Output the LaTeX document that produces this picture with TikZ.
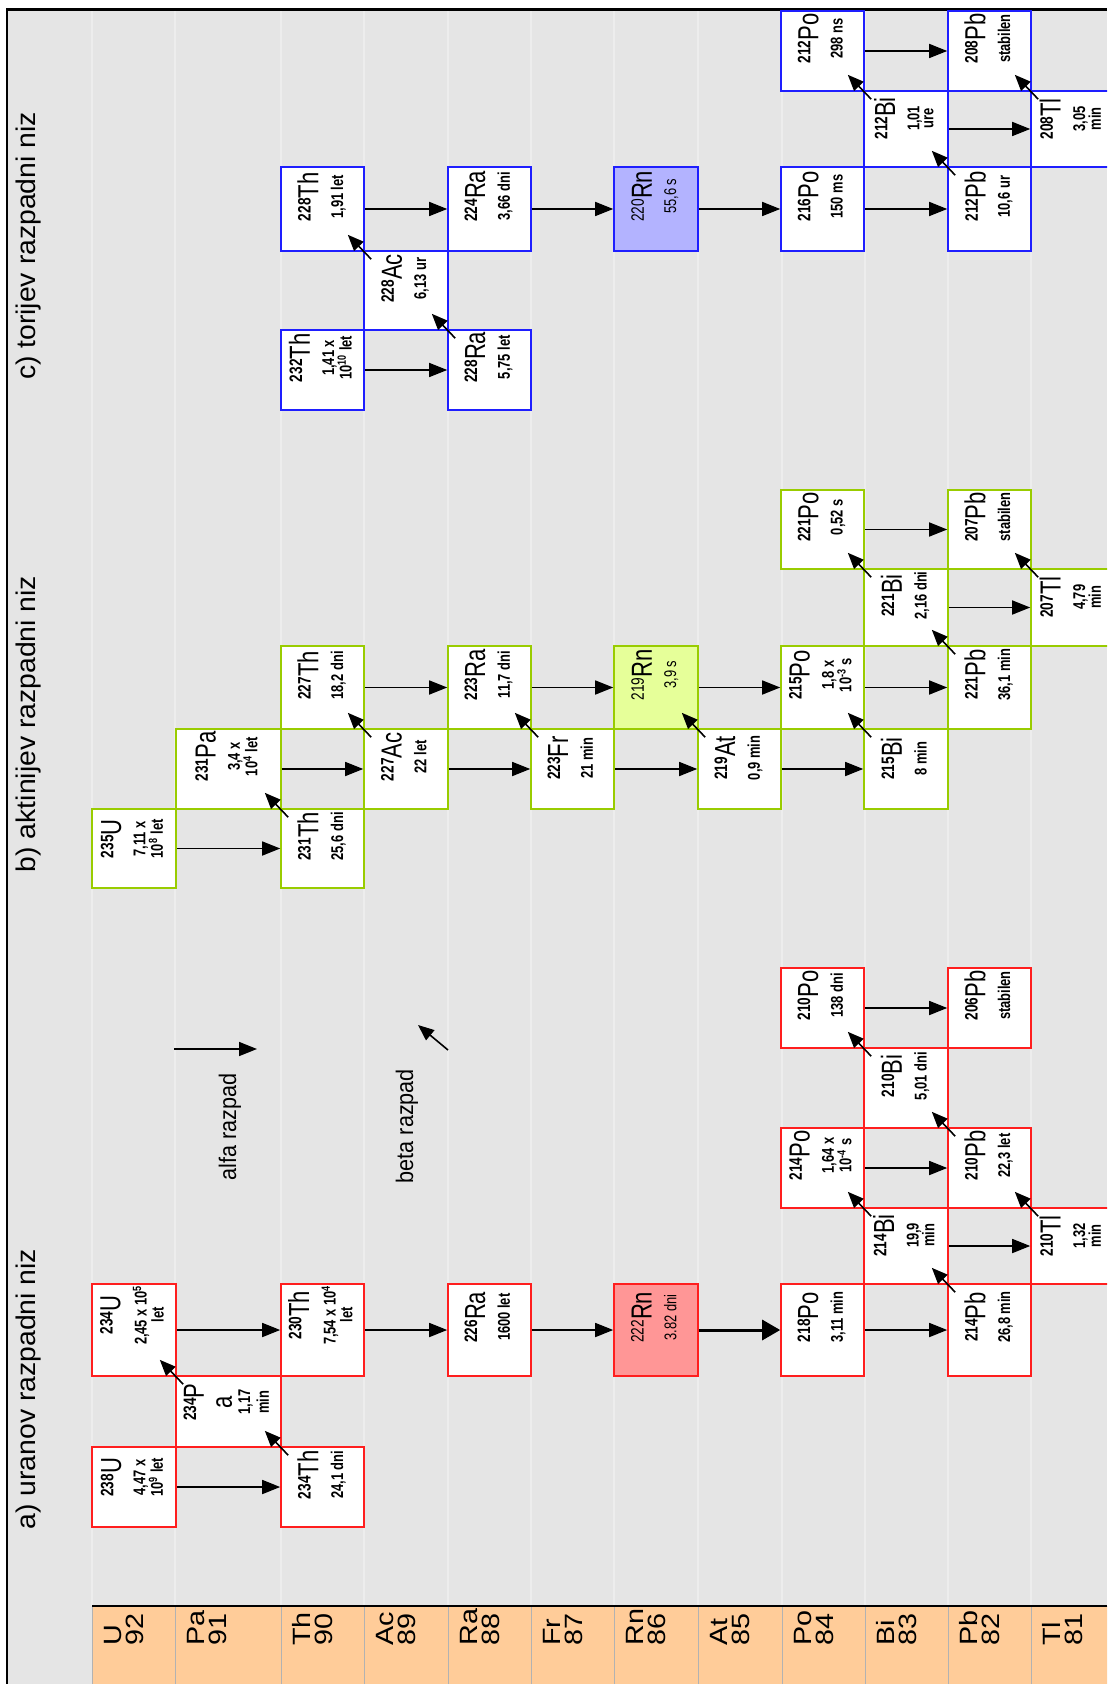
\documentclass[tikz,border=0pt]{standalone}
\usepackage{graphicx}
\usepackage{fontspec}
\setmainfont{Liberation Sans}
\newfontfamily\boxfont[FakeStretch=0.76]{Liberation Sans}
\newfontfamily\titlefont[FakeStretch=1.05]{Liberation Sans}
\newfontfamily\legendfont[FakeStretch=0.9]{Liberation Sans}
\newfontfamily\stripfont[FakeStretch=1.15]{Liberation Sans}
\usetikzlibrary{arrows.meta,fit}

\definecolor{bggray}{RGB}{229,229,229}
\definecolor{gridgray}{RGB}{237,237,237}
\definecolor{strip}{RGB}{255,204,153}
\definecolor{ured}{RGB}{255,30,30}
\definecolor{agreen}{RGB}{153,204,0}
\definecolor{tblue}{RGB}{30,30,255}
\definecolor{rnred}{RGB}{255,150,150}
\definecolor{rngreen}{RGB}{230,255,153}
\definecolor{rnblue}{RGB}{179,179,255}

% mass number, symbol, half-life lines
\newcommand{\nuc}[3]{\raisebox{-.5\height}{\rotatebox{90}{\begin{tabular}{@{}c@{}}\raisebox{3.9pt}{\fontsize{9}{9}\selectfont #1}{\mdseries\fontsize{14.5}{14.5}\selectfont #2}\\[4pt]#3\end{tabular}}}}
\newcommand{\rnlife}[1]{{\mdseries\fontsize{8.5}{9}\selectfont #1}}

\begin{document}
\begin{tikzpicture}[x=0.5pt, y=-0.5pt,
  box/.style={draw, fill=white, line width=0.8pt, inner sep=0pt, font=\boxfont\bfseries\fontsize{8.5}{7.5}\selectfont},
  ubox/.style={box, draw=ured},
  abox/.style={box, draw=agreen},
  tbox/.style={box, draw=tblue},
  alfa/.style={-{Triangle[length=9pt,width=7pt]}, line width=0.8pt},
  alfadebela/.style={-{Triangle[length=9pt,width=10pt]}, line width=1.5pt},
  beta/.style={-{Triangle[length=8pt,width=6.5pt]}, line width=0.8pt},
  naslov/.style={rotate=90, inner sep=0pt, font=\titlefont\fontsize{13.5}{13.5}\selectfont},
  legenda/.style={rotate=90, inner sep=0pt, font=\legendfont\fontsize{12}{12}\selectfont},
  celica/.style={fill=strip, draw=gray!60, line width=0.4pt},
  element/.style={rotate=90, anchor=west, align=left, inner sep=0pt, font=\stripfont\fontsize{12.5}{11}\selectfont},
  mreza/.style={draw=gridgray, line width=1pt}
]
\clip (0,0) rectangle (1107,1684);
\fill[white] (0,0) rectangle (1107,1684);
\fill[bggray] (7,9.5) rectangle (1107,1684);
\foreach \x in {92,175,281,364,448,531,614,698,782,865,948,1031}
  \draw[mreza] (\x,11) -- (\x,1606);
\draw[line width=1.3pt] (7,1684) -- (7,9.5) -- (1107,9.5);

% element strip
\foreach \sym/\z/\xa/\xb in {U/92/92/175, Pa/91/175/281, Th/90/281/364, Ac/89/364/448, Ra/88/448/531, Fr/87/531/614, Rn/86/614/698, At/85/698/782, Po/84/782/865, Bi/83/865/948, Pb/82/948/1031, Tl/81/1031/1114}{
  \draw[celica] (\xa,1606) rectangle (\xb,1690);
  \node[element] (el\z) at (\xa+32,1646) {\sym\\\z};
}
\draw[line width=0.8pt] (92,1606) -- (1107,1606);

\node[naslov] (nizU) at (29,1389) {a) uranov razpadni niz};
\node[naslov] (nizA) at (29,724) {b) aktinijev razpadni niz};
\node[naslov] (nizT) at (29,246) {c) torijev razpadni niz};

% a) uranium series
\node[ubox, fit={(92,1447) (176,1527)}] (u238) {\nuc{238}{U}{4,47 x\\[-0.5pt]10\textsuperscript{9} let}};
\node[ubox, fit={(281,1447) (364,1527)}] (th234) {\nuc{234}{Th}{24,1 dni}};
\node[ubox, fit={(176,1376) (281,1447)}] (pa234) {\nuc{234}{P}{{\mdseries\fontsize{14.5}{14}\selectfont a}\\[1pt]1,17\\[1pt]min}};
\node[ubox, fit={(92,1284) (176,1376)}] (u234) {\nuc{234}{U}{2,45 x 10\textsuperscript{5}\\let}};
\node[ubox, fit={(281,1284) (364,1376)}] (th230) {\nuc{230}{Th}{7,54 x 10\textsuperscript{4}\\let}};
\node[ubox, fit={(448,1284) (531,1376)}] (ra226) {\nuc{226}{Ra}{1600 let}};
\node[ubox, fill=rnred, fit={(614,1284) (698,1376)}] (rn222) {\nuc{\mdseries 222}{Rn}{\rnlife{3.82 dni}}};
\node[ubox, fit={(781,1284) (864,1376)}] (po218) {\nuc{218}{Po}{3,11 min}};
\node[ubox, fit={(948,1284) (1031,1376)}] (pb214) {\nuc{214}{Pb}{26,8 min}};
\node[ubox, fit={(864,1208) (948,1284)}] (bi214) {\nuc{214}{Bi}{19,9\\[-0.5pt]min}};
\node[ubox, fit={(1031,1208) (1114,1284)}] (tl210) {\nuc{210}{Tl}{1,32\\[-0.5pt]min}};
\node[ubox, fit={(781,1128) (864,1208)}] (po214) {\nuc{214}{Po}{1,64 x\\[-0.5pt]10\textsuperscript{-4} s}};
\node[ubox, fit={(948,1128) (1031,1208)}] (pb210) {\nuc{210}{Pb}{22,3 let}};
\node[ubox, fit={(864,1048) (948,1128)}] (bi210) {\nuc{210}{Bi}{5,01 dni}};
\node[ubox, fit={(781,968) (864,1048)}] (po210) {\nuc{210}{Po}{138 dni}};
\node[ubox, fit={(948,968) (1031,1048)}] (pb206) {\nuc{206}{Pb}{stabilen}};

% b) actinium series
\node[abox, fit={(92,809) (176,888)}] (u235) {\nuc{235}{U}{7,11 x\\[-0.5pt]10\textsuperscript{8} let}};
\node[abox, fit={(281,809) (364,888)}] (th231) {\nuc{231}{Th}{25,6 dni}};
\node[abox, fit={(176,729) (281,809)}] (pa231) {\nuc{231}{Pa}{3,4 x\\[-0.5pt]10\textsuperscript{4} let}};
\node[abox, fit={(364,729) (448,809)}] (ac227) {\nuc{227}{Ac}{22 let}};
\node[abox, fit={(281,646) (364,729)}] (th227) {\nuc{227}{Th}{18,2 dni}};
\node[abox, fit={(448,646) (531,729)}] (ra223) {\nuc{223}{Ra}{11,7 dni}};
\node[abox, fit={(531,729) (614,809)}] (fr223) {\nuc{223}{Fr}{21 min}};
\node[abox, fill=rngreen, fit={(614,646) (698,729)}] (rn219) {\nuc{\mdseries 219}{Rn}{\rnlife{3,9 s}}};
\node[abox, fit={(698,729) (781,809)}] (at219) {\nuc{219}{At}{0,9 min}};
\node[abox, fit={(781,646) (864,729)}] (po215) {\nuc{215}{Po}{1,8 x\\[-0.5pt]10\textsuperscript{-3} s}};
\node[abox, fit={(864,729) (948,809)}] (bi215) {\nuc{215}{Bi}{8 min}};
\node[abox, fit={(948,646) (1031,729)}] (pb221) {\nuc{221}{Pb}{36,1 min}};
\node[abox, fit={(864,569) (948,646)}] (bi221) {\nuc{221}{Bi}{2,16 dni}};
\node[abox, fit={(1031,569) (1114,646)}] (tl207) {\nuc{207}{Tl}{4,79\\[-0.5pt]min}};
\node[abox, fit={(781,490) (864,569)}] (po221) {\nuc{221}{Po}{0,52 s}};
\node[abox, fit={(948,490) (1031,569)}] (pb207) {\nuc{207}{Pb}{stabilen}};

% c) thorium series
\node[tbox, fit={(281,330) (364,410)}] (th232) {\nuc{232}{Th}{1,41 x\\[-0.5pt]10\textsuperscript{10} let}};
\node[tbox, fit={(448,330) (531,410)}] (ra228) {\nuc{228}{Ra}{5,75 let}};
\node[tbox, fit={(364,251) (448,330)}] (ac228) {\nuc{228}{Ac}{6,13 ur}};
\node[tbox, fit={(281,167) (364,251)}] (th228) {\nuc{228}{Th}{1,91 let}};
\node[tbox, fit={(448,167) (531,251)}] (ra224) {\nuc{224}{Ra}{3,66 dni}};
\node[tbox, fill=rnblue, fit={(614,167) (698,251)}] (rn220) {\nuc{\mdseries 220}{Rn}{\rnlife{55,6 s}}};
\node[tbox, fit={(781,167) (864,251)}] (po216) {\nuc{216}{Po}{150 ms}};
\node[tbox, fit={(948,167) (1031,251)}] (pb212) {\nuc{212}{Pb}{10,6 ur}};
\node[tbox, fit={(864,91) (948,167)}] (bi212) {\nuc{212}{Bi}{1,01\\[-0.5pt]ure}};
\node[tbox, fit={(1031,91) (1114,167)}] (tl208) {\nuc{208}{Tl}{3,05\\[-0.5pt]min}};
\node[tbox, fit={(781,11) (864,91)}] (po212) {\nuc{212}{Po}{298 ns}};
\node[tbox, fit={(948,11) (1031,91)}] (pb208) {\nuc{208}{Pb}{stabilen}};

% alpha decays
\foreach \s/\t in {u238/th234, u234/th230, th230/ra226, ra226/rn222, po218/pb214, bi214/tl210, po214/pb210, po210/pb206,
    u235/th231, pa231/ac227, ac227/fr223, th227/ra223, ra223/rn219, fr223/at219, rn219/po215, at219/bi215, po215/pb221, bi221/tl207, po221/pb207,
    th232/ra228, th228/ra224, ra224/rn220, rn220/po216, po216/pb212, bi212/tl208, po212/pb208}
  \draw[alfa] (\s.east) -- (\t.west);
\draw[alfadebela] (rn222.east) -- (po218.west);

% beta decays
\foreach \s/\t in {th234/pa234, pa234/u234, pb214/bi214, bi214/po214, tl210/pb210, pb210/bi210, bi210/po210,
    th231/pa231, ac227/th227, fr223/ra223, at219/rn219, bi215/po215, pb221/bi221, bi221/po221, tl207/pb207,
    ra228/ac228, ac228/th228, pb212/bi212, bi212/po212, tl208/pb208}
  \draw[beta] ([shift={(8,9)}]\s.north west) -- ([shift={(-17,-17)}]\t.south east);

% legend
\coordinate (alfaA) at (174,1049);
\coordinate (alfaB) at (257,1049);
\draw[alfa] (alfaA) -- (alfaB);
\node[legenda] (alfaT) at (230,1127) {alfa razpad};
\coordinate (betaA) at (448,1050);
\coordinate (betaB) at (418,1025);
\draw[beta] (betaA) -- (betaB);
\node[legenda] (betaT) at (407,1126) {beta razpad};
\end{tikzpicture}
\end{document}
